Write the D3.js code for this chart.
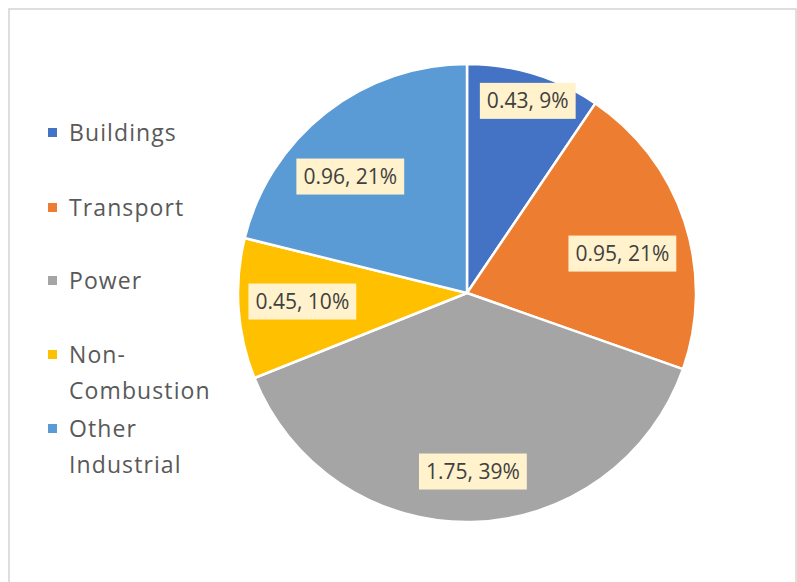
<!DOCTYPE html>
<html><head><meta charset="utf-8">
<script src="https://cdn.jsdelivr.net/npm/d3@7"></script>
<style>body{margin:0;background:#fff;} svg{display:block;}</style>
</head><body>
<svg id="chart" width="797" height="582"></svg>
<script>
const categories = ["Buildings", "Transport", "Power", "Non-Combustion", "Other Industrial"];
const legendLines = [["Buildings"], ["Transport"], ["Power"], ["Non-", "Combustion"], ["Other", "Industrial"]];
const values = [0.43, 0.95, 1.75, 0.45, 0.96];
const percentLabels = ["9%", "21%", "39%", "10%", "21%"];
const colors = ["#4472C4", "#ED7D31", "#A5A5A5", "#FFC000", "#5B9BD5"];
// label placement (fraction of radius, angular nudge in degrees), like Excel best-fit
const labelRadius = [0.88, 0.70, 0.78, 0.72, 0.72];
const labelNudge = [0.5, 4, -0.7, 1, -7];

const svg = d3.select("#chart");
svg.append("rect").attr("x", 9).attr("y", 9).attr("width", 787).attr("height", 590)
  .attr("fill", "#fff").attr("stroke", "#D4D4D4").attr("stroke-width", 1.5);

const cx = 467, cy = 293, R = 229;
const pie = d3.pie().sort(null).value(d => d);
const arcs = pie(values);
const arc = d3.arc().innerRadius(0).outerRadius(R);
const g = svg.append("g").attr("transform", `translate(${cx},${cy})`);
g.selectAll("path").data(arcs).join("path")
  .attr("d", arc).attr("fill", (d, i) => colors[i])
  .attr("stroke", "#fff").attr("stroke-width", 2.5).attr("stroke-linejoin", "round");

const font = "'Open Sans', 'Noto Sans', sans-serif";
arcs.forEach((d, i) => {
  const a = (d.startAngle + d.endAngle) / 2 + labelNudge[i] * Math.PI / 180;
  const r = R * labelRadius[i];
  const x = Math.sin(a) * r, y = -Math.cos(a) * r;
  const lg = g.append("g").attr("transform", `translate(${x},${y})`);
  const t = lg.append("text").attr("text-anchor", "middle").attr("dy", "0.35em")
    .attr("font-family", font).attr("font-size", 21).attr("fill", "#404040")
    .text(`${values[i].toFixed(2)}, ${percentLabels[i]}`);
  const bb = t.node().getBBox();
  lg.insert("rect", "text").attr("x", bb.x - 7).attr("y", -18).attr("width", bb.width + 14).attr("height", 36)
    .attr("fill", "#FFF2CC");
});

// legend
const legendY = [133, 208, 281, 355, 429];
const lgd = svg.append("g");
legendLines.forEach((lines, i) => {
  lgd.append("rect").attr("x", 48).attr("y", legendY[i] - 5).attr("width", 9).attr("height", 9).attr("fill", colors[i]);
  lines.forEach((ln, j) => {
    lgd.append("text").attr("x", 69).attr("y", legendY[i] + j * 36).attr("dy", "0.35em")
      .attr("font-family", font).attr("font-size", 23).attr("letter-spacing", 1.1)
      .attr("fill", "#595959").text(ln);
  });
});
</script>
</body></html>
